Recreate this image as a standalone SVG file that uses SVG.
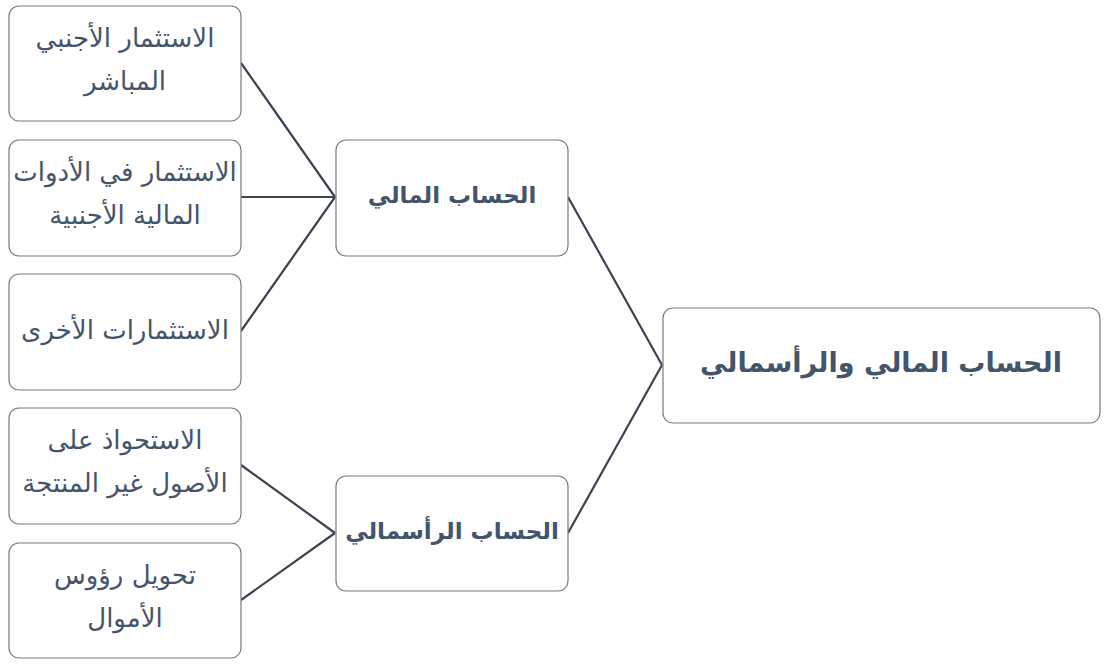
<svg xmlns="http://www.w3.org/2000/svg" width="1109" height="666" viewBox="0 0 1109 666">
<style>
.box{fill:#fff;stroke:#7a7a7a;stroke-width:1.2}
.t{font-family:"DejaVu Sans","Noto Sans",sans-serif;fill:#44546a;text-anchor:middle;direction:rtl}
.leaf{font-size:26px}
.mid{font-size:23px;font-weight:bold}
.root{font-size:27px;font-weight:bold}
.c{stroke:#3b4455;stroke-width:2.2;fill:none}
</style>
<rect width="1109" height="666" fill="#fff"/>
<g id="connectors">
<path class="c" d="M662 365 L568 197 M662 365 L568 533"/>
<path class="c" d="M335 197 L241 63 M335 197 L241 197 M335 197 L241 331"/>
<path class="c" d="M335 533 L241 465 M335 533 L241 600"/>
</g>
<g id="root"><rect class="box" x="663" y="308" width="437" height="115" rx="10"/><text class="t root" x="881" y="372">الحساب المالي والرأسمالي</text></g>
<g id="financial"><rect class="box" x="336" y="140" width="232" height="116" rx="10"/><text class="t mid" x="452" y="203">الحساب المالي</text></g>
<g id="capital"><rect class="box" x="336" y="476" width="232" height="115" rx="10"/><text class="t mid" x="452" y="539">الحساب الرأسمالي</text></g>
<g id="leaf1"><rect class="box" x="9" y="6" width="232" height="115" rx="10"/><text class="t leaf" x="125" y="47">الاستثمار الأجنبي</text><text class="t leaf" x="125" y="90">المباشر</text></g>
<g id="leaf2"><rect class="box" x="9" y="140" width="232" height="116" rx="10"/><text class="t leaf" x="125" y="181">الاستثمار في الأدوات</text><text class="t leaf" x="125" y="224">المالية الأجنبية</text></g>
<g id="leaf3"><rect class="box" x="9" y="274" width="232" height="116" rx="10"/><text class="t leaf" x="125" y="339">الاستثمارات الأخرى</text></g>
<g id="leaf4"><rect class="box" x="9" y="408" width="232" height="116" rx="10"/><text class="t leaf" x="125" y="449">الاستحواذ على</text><text class="t leaf" x="125" y="492">الأصول غير المنتجة</text></g>
<g id="leaf5"><rect class="box" x="9" y="543" width="232" height="115" rx="10"/><text class="t leaf" x="125" y="584">تحويل رؤوس</text><text class="t leaf" x="125" y="627">الأموال</text></g>
</svg>
